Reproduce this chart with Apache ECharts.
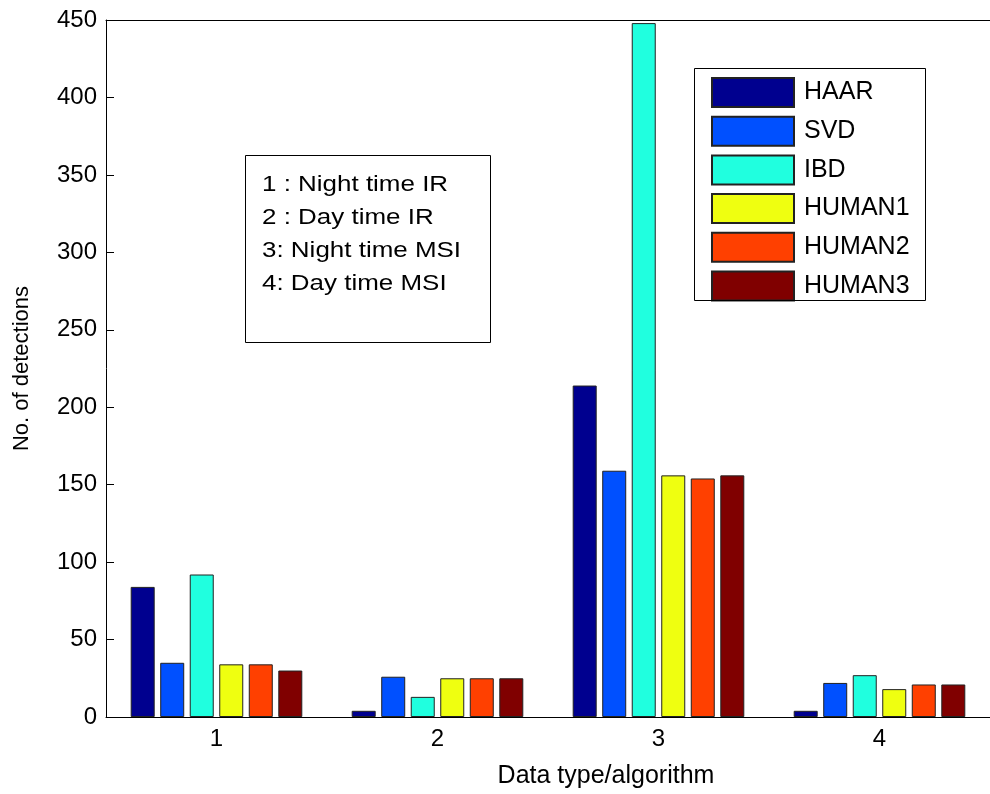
<!DOCTYPE html>
<html>
<head>
<meta charset="utf-8">
<script src="https://cdn.jsdelivr.net/npm/echarts@6/dist/echarts.min.js"></script>
<style>
html,body{margin:0;padding:0;background:#fff;}
#chart{width:990px;height:794px;}
</style>
</head>
<body>
<div id="chart"></div>
<script>
const categories = ['1', '2', '3', '4'];
const seriesNames = ['HAAR', 'SVD', 'IBD', 'HUMAN1', 'HUMAN2', 'HUMAN3'];
const HAAR   = [84, 4, 214, 4];
const SVD    = [35, 26, 159, 22];
const IBD    = [92, 13, 448, 27];
const HUMAN1 = [34, 25, 156, 18];
const HUMAN2 = [34, 25, 154, 21];
const HUMAN3 = [30, 25, 156, 21];
const yTicks = { min: 0, max: 450, interval: 50 };
const noteLines = ['1 : Night time IR', '2 : Day time IR', '3: Night time MSI', '4: Day time MSI'];

const values = [HAAR, SVD, IBD, HUMAN1, HUMAN2, HUMAN3];
const colors = ['#00008F', '#0050FF', '#20FFDF', '#EFFF10', '#FF4000', '#800000'];
const FONT = 'Liberation Sans, Arial, sans-serif';

const chart = echarts.init(document.getElementById('chart'), null, { renderer: 'canvas' });

const series = seriesNames.map((name, i) => ({
  name: name,
  type: 'bar',
  data: values[i],
  barWidth: 24,
  barGap: '23%',
  itemStyle: { color: colors[i], borderColor: '#222', borderWidth: 1 },
  emphasis: { disabled: true }
}));

chart.setOption({
  animation: false,
  backgroundColor: '#fff',
  textStyle: { fontFamily: FONT },
  grid: { left: 106, top: 20, width: 891, height: 701, containLabel: false },
  legend: {
    orient: 'vertical',
    left: 711,
    top: 77,
    padding: 0,
    itemWidth: 82,
    itemHeight: 29,
    itemGap: 7.7,
    icon: 'rect',
    selectedMode: false,
    textStyle: { fontSize: 25, lineHeight: 29, color: '#000', fontFamily: FONT, padding: [0, 0, 0, 5] },
    data: seriesNames
  },
  xAxis: [{
    type: 'category',
    data: categories,
    position: 'bottom',
    name: 'Data type/algorithm',
    nameLocation: 'middle',
    nameGap: 47,
    nameTextStyle: { fontSize: 25, color: '#000', fontFamily: FONT, padding: [0, 0, 0, 116] },
    axisLine: { lineStyle: { color: '#000', width: 1 } },
    axisTick: { inside: true, length: 8, alignWithLabel: true, lineStyle: { color: '#000' } },
    axisLabel: { fontSize: 24, color: '#000', margin: 10, fontFamily: FONT },
    splitLine: { show: false }
  }, {
    type: 'category',
    data: categories,
    position: 'top',
    axisLine: { lineStyle: { color: '#000', width: 1 } },
    axisTick: { inside: true, length: 8, alignWithLabel: true, lineStyle: { color: '#000' } },
    axisLabel: { show: false },
    splitLine: { show: false }
  }],
  yAxis: {
    type: 'value',
    min: yTicks.min,
    max: yTicks.max,
    interval: yTicks.interval,
    name: 'No. of detections',
    nameLocation: 'middle',
    nameGap: 73,
    nameTextStyle: { fontSize: 22, color: '#000', fontFamily: FONT },
    axisLine: { show: true, lineStyle: { color: '#000', width: 1 } },
    axisTick: { show: true, inside: true, length: 8, lineStyle: { color: '#000' } },
    axisLabel: { fontSize: 24, color: '#000', margin: 9, fontFamily: FONT },
    splitLine: { show: false }
  },
  graphic: [
    {
      type: 'rect',
      shape: { x: 694.5, y: 68.5, width: 231, height: 232 },
      style: { fill: 'none', stroke: '#000', lineWidth: 1 },
      z: 100
    },
    {
      type: 'rect',
      shape: { x: 245.5, y: 155.5, width: 245, height: 187 },
      style: { fill: '#fff', stroke: '#000', lineWidth: 1 },
      z: 100
    },
    {
      type: 'text',
      x: 262,
      y: 168.5,
      scaleX: 1.18,
      z: 101,
      style: {
        x: 0,
        y: 0,
        text: noteLines.join('\n'),
        font: '22px ' + FONT,
        fill: '#000',
        lineHeight: 33
      }
    }
  ],
  series: series
});
</script>
</body>
</html>
